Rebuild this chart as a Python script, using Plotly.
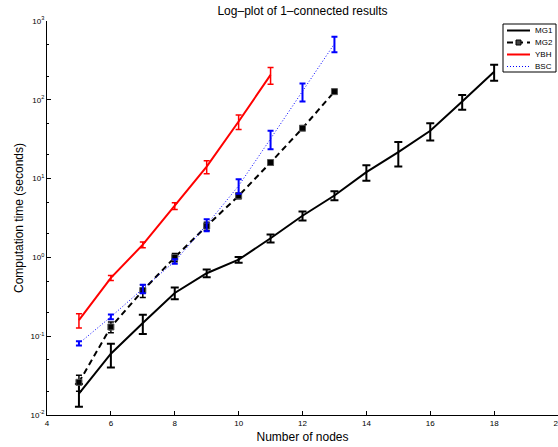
import plotly.graph_objects as go

# ---- data ----
x_mg1 = [5, 6, 7, 8, 9, 10, 11, 12, 13, 14, 15, 16, 17, 18]
mg1 = [0.0187, 0.060, 0.147, 0.354, 0.63, 0.935, 1.75, 3.38, 6.1, 12.1, 21.7, 40.4, 95, 227]
mg1_err = [0.006, 0.02, 0.04, 0.06, 0.07, 0.08, 0.2, 0.45, 0.8, 2.7, 7.5, 10, 20, 52]

x_mg2 = [5, 6, 7, 8, 9, 10, 11, 12, 13]
mg2 = [0.026, 0.131, 0.38, 1.0, 2.5, 6.05, 16.0, 43.6, 127]
mg2_err = [0.006, 0.02, 0.07, 0.12, 0.3, 0.5, 1.0, 2.5, 6]

x_ybh = [5, 6, 7, 8, 9, 10, 11]
ybh = [0.16, 0.55, 1.45, 4.5, 14.2, 53, 207]
ybh_err = [0.033, 0.04, 0.12, 0.45, 2.7, 11, 50]

x_bsc = [5, 6, 7, 8, 9, 10, 11, 12, 13]
bsc = [0.081, 0.176, 0.40, 0.89, 2.6, 8.1, 32, 128, 515]
bsc_err = [0.005, 0.012, 0.05, 0.06, 0.45, 1.7, 8.5, 33, 115]

x_ticks = [4, 6, 8, 10, 12, 14, 16, 18, 20]
y_exponents = [-2, -1, 0, 1, 2, 3]
series_names = ["MG1", "MG2", "YBH", "BSC"]

FONT = "Liberation Sans, Arial, Helvetica, sans-serif"
W, H = 558, 447
ML, MR, MT, MB = 47, 0, 21, 32
PW, PH = W - ML - MR, H - MT - MB

DASH_MG2 = "6px,4px"
DOT_BSC = "1px,2px"


def px_to_paper(px, py):
    return (px - ML) / PW, (H - MB - py) / PH


fig = go.Figure()

fig.add_trace(go.Scatter(
    x=x_mg1, y=mg1, name=series_names[0], mode="lines",
    line=dict(color="black", width=2),
    error_y=dict(type="data", array=mg1_err, visible=True, color="black", thickness=2, width=4),
))
fig.add_trace(go.Scatter(
    x=x_mg2, y=mg2, name=series_names[1], mode="lines+markers",
    line=dict(color="black", width=2, dash=DASH_MG2),
    marker=dict(symbol="square", size=6, color="black", line=dict(color="#555", width=1)),
    error_y=dict(type="data", array=mg2_err, visible=True, color="black", thickness=1.5, width=3),
))
fig.add_trace(go.Scatter(
    x=x_ybh, y=ybh, name=series_names[2], mode="lines",
    line=dict(color="#ff0000", width=2),
    error_y=dict(type="data", array=ybh_err, visible=True, color="#ff0000", thickness=1.5, width=3),
))
fig.add_trace(go.Scatter(
    x=x_bsc, y=bsc, name=series_names[3], mode="lines",
    line=dict(color="#0000ff", width=1, dash=DOT_BSC),
    error_y=dict(type="data", array=bsc_err, visible=True, color="#0000ff", thickness=2, width=3),
))

# ---- legend box drawn manually (MATLAB style) ----
shapes = []
annotations = []
bx0, by0 = px_to_paper(503, 24)
bx1, by1 = px_to_paper(556, 72)
shapes.append(dict(type="rect", xref="paper", yref="paper", x0=bx0, x1=bx1, y0=by1, y1=by0,
                   line=dict(color="black", width=1), fillcolor="white", layer="above"))
row_py = [30.5, 42.5, 54.5, 66.5]
styles = [
    dict(color="black", width=2, dash="solid"),
    dict(color="black", width=2, dash=DASH_MG2),
    dict(color="#ff0000", width=2, dash="solid"),
    dict(color="#0000ff", width=1, dash=DOT_BSC),
]
for name, py, st in zip(series_names, row_py, styles):
    lx0, ly = px_to_paper(507, py)
    lx1, _ = px_to_paper(530, py)
    shapes.append(dict(type="line", xref="paper", yref="paper", x0=lx0, x1=lx1, y0=ly, y1=ly,
                       line=st, layer="above"))
    tx, _ = px_to_paper(533, py)
    annotations.append(dict(text=name, xref="paper", yref="paper", x=tx, y=ly,
                            xanchor="left", yanchor="middle", showarrow=False,
                            font=dict(size=8, family=FONT, color="black")))
# MG2 legend marker
sx0, sy0 = px_to_paper(516, 40)
sx1, sy1 = px_to_paper(521, 45)
shapes.append(dict(type="rect", xref="paper", yref="paper", x0=sx0, x1=sx1, y0=sy1, y1=sy0,
                   line=dict(color="black", width=1), fillcolor="#444", layer="above"))

fig.update_layout(
    width=W, height=H,
    margin=dict(l=ML, r=MR, t=MT, b=MB, autoexpand=False),
    paper_bgcolor="white", plot_bgcolor="white",
    font=dict(family=FONT, color="black", size=8),
    title=dict(text="Log\u2013plot of 1\u2013connected results", x=0.5, xref="paper",
               y=1 - 11 / H, yanchor="middle", font=dict(size=12, family=FONT)),
    showlegend=False,
    shapes=shapes,
    annotations=annotations,
)

fig.update_xaxes(
    range=[4, 20], tickvals=x_ticks, ticktext=[str(t) for t in x_ticks],
    showline=True, linecolor="black", linewidth=1, mirror=False,
    ticks="inside", ticklen=4, tickcolor="black", showgrid=False, zeroline=False,
    tickfont=dict(size=8), automargin=False, ticklabeloverflow="allow",
    title=dict(text="Number of nodes", font=dict(size=12), standoff=6),
)
fig.update_yaxes(
    type="log", range=[-2, 3],
    tickvals=[10 ** e for e in y_exponents],
    ticktext=["10<sup>%d</sup>" % e for e in y_exponents],
    showline=True, linecolor="black", linewidth=1, mirror=False,
    ticks="inside", ticklen=4, tickcolor="black", showgrid=False, zeroline=False,
    tickfont=dict(size=8), automargin=False,
    minor=dict(ticks="inside", ticklen=2, tickcolor="black", showgrid=False),
    title=dict(text="Computation time (seconds)", font=dict(size=12), standoff=4),
)

fig.write_html(
    "out.html",
    config={"displayModeBar": False},
    post_script="document.body.style.margin='0';document.body.style.overflow='hidden';",
)
